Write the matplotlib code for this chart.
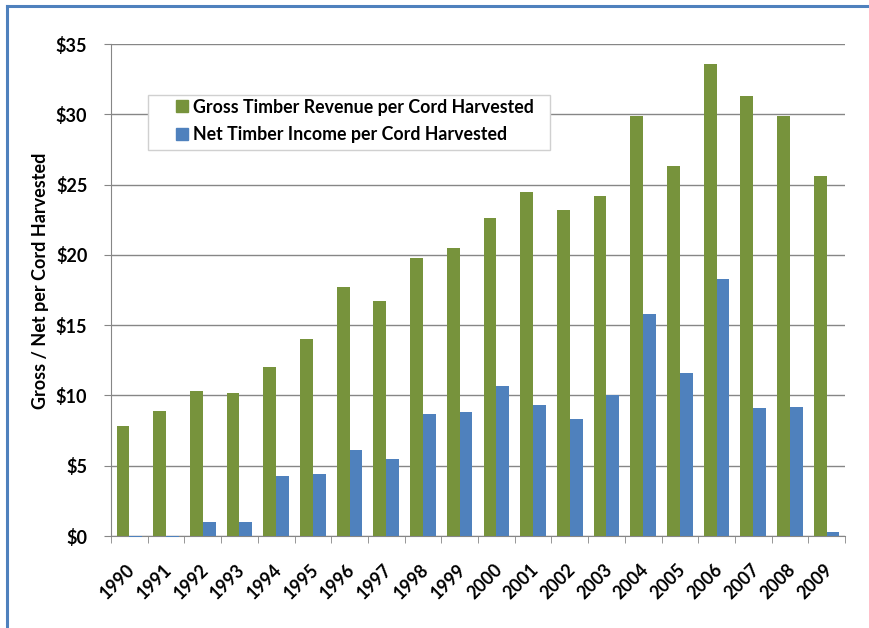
import matplotlib
matplotlib.use("Agg")
import matplotlib.pyplot as plt
import matplotlib.transforms as mtransforms
from matplotlib.lines import Line2D
from matplotlib.patches import Rectangle
from matplotlib.ticker import FuncFormatter
import numpy as np

years = ['1990', '1991', '1992', '1993', '1994', '1995', '1996', '1997', '1998', '1999',
         '2000', '2001', '2002', '2003', '2004', '2005', '2006', '2007', '2008', '2009']
gross = [7.8, 8.9, 10.3, 10.2, 12.0, 14.0, 17.7, 16.7, 19.8, 20.5,
         22.6, 24.5, 23.2, 24.2, 29.9, 26.3, 33.6, 31.3, 29.9, 25.6]
net = [-0.1, -0.1, 1.0, 1.0, 4.3, 4.4, 6.1, 5.5, 8.7, 8.8,
       10.7, 9.3, 8.3, 10.0, 15.8, 11.6, 18.3, 9.1, 9.2, 0.3]
labels = ['Gross Timber Revenue per Cord Harvested', 'Net Timber Income per Cord Harvested']

GREEN = '#77933C'
BLUE = '#4F81BD'
GRAY = '#868686'

plt.rcParams['font.family'] = ['Lato', 'DejaVu Sans']
plt.rcParams['font.weight'] = 'bold'

fig = plt.figure(figsize=(8.7, 6.28), dpi=100)
ax = fig.add_axes([111/870, 1 - 536/628, (845-111)/870, (536-44)/628])

x = np.arange(len(years))
w = 0.35
ax.bar(x - w/2, gross, w, color=GREEN, zorder=3)
bars = ax.bar(x + w/2, net, w, color=BLUE, zorder=3)
for b in bars:
    b.set_clip_on(False)

ax.set_xlim(-0.5, len(years) - 0.5)
ax.set_ylim(0, 35)
ax.set_yticks(np.arange(0, 36, 5))
ax.yaxis.set_major_formatter(FuncFormatter(lambda v, p: '$%d' % v))
ax.grid(axis='y', color=GRAY, linewidth=1, zorder=0)

ax.set_xticks(x)
ax.set_xticklabels(years, rotation=45, ha='right', va='center', rotation_mode='anchor',
                   fontsize=12.8, fontweight='bold')
ax.set_xticks(np.arange(-0.5, len(years), 1), minor=True)
ax.tick_params(axis='x', which='major', length=0, pad=22)
ax.tick_params(axis='x', which='minor', length=5, color=GRAY, direction='out')
ax.tick_params(axis='y', length=5, color=GRAY, labelsize=13, pad=12)
shift = mtransforms.ScaledTranslation(3/100, 0, fig.dpi_scale_trans)
for lab in ax.get_xticklabels():
    lab.set_transform(lab.get_transform() + shift)
for lab in ax.get_yticklabels():
    lab.set_fontweight('bold')

for s in ['top', 'right']:
    ax.spines[s].set_visible(False)
for s in ['left', 'bottom']:
    ax.spines[s].set_color(GRAY)

ylab = ax.set_ylabel('Gross / Net per Cord Harvested', fontsize=13, fontweight='bold')
ylab.set_fontweight('bold')
ax.yaxis.set_label_coords(-0.085, 0.518)

# legend box
ax.add_patch(Rectangle(((148-111)/734, (536-150)/492), 402/734, 55/492, transform=ax.transAxes,
                       facecolor='white', edgecolor='#D0D0D0', linewidth=1, zorder=4))
handles = [Line2D([], [], linestyle='none', marker='s', markersize=8.5, color=c) for c in (GREEN, BLUE)]
leg = ax.legend(handles, labels, loc='upper left', bbox_to_anchor=((173-111)/734, (536-98.5)/492),
                frameon=False, handlelength=1.0, handletextpad=0.1, borderpad=0,
                borderaxespad=0, labelspacing=0.58, prop={'weight': 'bold', 'size': 12.8})
leg.set_zorder(5)

# blue frame on left and top
yt = 1 - 6/628
xl = 7/870
fig.add_artist(Line2D([xl, xl], [0, yt], color=BLUE, linewidth=2.2, transform=fig.transFigure))
fig.add_artist(Line2D([xl, 1], [yt, yt], color=BLUE, linewidth=2.2, transform=fig.transFigure))

fig.savefig('out.png', dpi=100)
